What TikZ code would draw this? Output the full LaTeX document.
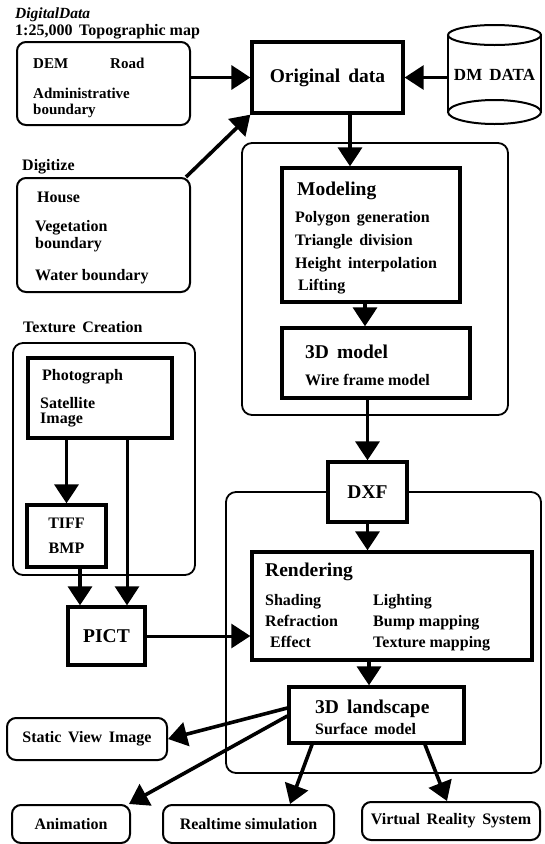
\documentclass[tikz,border=0pt]{standalone}
\usepackage{fontspec}
\setmainfont{Liberation Serif}
\usetikzlibrary{arrows.meta,calc}
\newcommand\txs{\fontsize{16}{16}\selectfont\bfseries}
\newcommand\txm{\fontsize{15}{15}\selectfont\bfseries}
\newcommand\txl{\fontsize{19.5}{20}\selectfont\bfseries}
\newcommand\txi{\fontsize{15.5}{16}\selectfont\bfseries\itshape}
\begin{document}
\begin{tikzpicture}[x=1pt,y=-1pt,
  grp/.style={draw, line width=1.8pt, rounded corners=10pt},
  tbox/.style={draw, line width=3.3pt, fill=white, inner sep=0pt},
  rbox/.style={draw, line width=2pt, rounded corners=9pt, fill=white, inner sep=0pt},
  lbl/.style={anchor=base west, inner sep=0pt, font=\txs},
  lbm/.style={anchor=base west, inner sep=0pt, font=\txm},
  ttl/.style={anchor=base west, inner sep=0pt, font=\txl},
  arr/.style={line width=3.6pt, -{Triangle[length=19pt,width=24pt]}},
  thinarr/.style={line width=3pt, -{Triangle[length=19pt,width=24pt]}},
]
\useasboundingbox[fill=white] (0,0) rectangle (544,844);

% group frames
\draw[grp] (242,143) rectangle (508,415);
\draw[grp] (226,492) rectangle (541,773);
\draw[grp] (13,343) rectangle (195,575);

% top left
\node[anchor=base west, inner sep=0pt, font=\txi] (dd) at (15,18) {DigitalData};
\node[lbl] (topo-t) at (15,35) {1:25,000\, Topographic map};
\node[rbox, minimum width=173pt, minimum height=83pt] (topo) at (103.5,83.5) {};
\node[lbm] at (33,68) {DEM};
\node[lbm] at (110,68) {Road};
\node[lbm] at (33,98) {Administrative};
\node[lbm] at (33,114) {boundary};

% original data
\node[tbox, minimum width=151pt, minimum height=71pt, font=\txl] (orig) at (327.5,77.5) {Original\, data};

% DM DATA cylinder
\node[inner sep=0pt, minimum width=93pt, minimum height=77pt, font=\fontsize{17}{17}\selectfont\bfseries] (dm) at (494.5,75) {DM\, DATA};
\draw[line width=2pt] (494.5,35) ellipse [x radius=46.5, y radius=10];
\draw[line width=2pt] (448,35) -- (448,112) (541,35) -- (541,112);
\draw[line width=2pt] (494.5,112) ellipse [x radius=46.5, y radius=12];

% digitize
\node[lbl] (dig-t) at (22,170) {Digitize};
\node[rbox, minimum width=173pt, minimum height=114pt] (digit) at (103.5,235) {};
\node[lbl] at (37,202) {House};
\node[lbl] at (35,231) {Vegetation};
\node[lbl] at (35,248) {boundary};
\node[lbl] at (35,280) {Water boundary};

% modeling
\node[tbox, minimum width=178pt, minimum height=134pt] (modeling) at (371,235) {};
\node[ttl] at (297,195.5) {Modeling};
\node[lbl] at (295,222) {Polygon\, generation};
\node[lbl] at (295,245) {Triangle\, division};
\node[lbl] at (295,268) {Height\, interpolation};
\node[lbl] at (298,290) {Lifting};

% 3D model
\node[tbox, minimum width=188pt, minimum height=70pt] (model3d) at (376,363) {};
\node[ttl] at (305,358.5) {3D\, model};
\node[lbl] at (305,385) {Wire frame model};

% DXF
\node[tbox, minimum width=79pt, minimum height=60pt, font=\txl] (dxf) at (367.5,492) {DXF};

% rendering
\node[tbox, minimum width=280pt, minimum height=108pt] (render) at (392,606) {};
\node[ttl] at (265,576.5) {Rendering};
\node[lbl] at (265,605) {Shading};
\node[lbl] at (373,605) {Lighting};
\node[lbl] at (265,626) {Refraction};
\node[lbl] at (373,626) {Bump mapping};
\node[lbl] at (270,647) {Effect};
\node[lbl] at (373,647) {Texture mapping};

% 3D landscape
\node[tbox, minimum width=175pt, minimum height=56pt] (land) at (376.5,715) {};
\node[ttl] at (315,713.5) {3D\, landscape};
\node[lbl] at (315,734) {Surface\, model};

% texture creation
\node[lbl] (tex-t) at (23,332) {Texture\, Creation};
\node[tbox, minimum width=144pt, minimum height=80pt] (photo) at (100,398) {};
\node[lbl] at (42,380) {Photograph};
\node[lbl] at (40,408) {Satellite};
\node[lbl] at (40,423) {Image};
\node[tbox, minimum width=79pt, minimum height=62pt] (tiff) at (66.5,536) {};
\node[anchor=base, inner sep=0pt, font=\txs] at (66.5,528) {TIFF};
\node[anchor=base, inner sep=0pt, font=\txs] at (66.5,553) {BMP};
\node[tbox, minimum width=77pt, minimum height=58pt, font=\txl] (pict) at (106.5,636) {PICT};

% outputs
\node[rbox, minimum width=160pt, minimum height=42pt, font=\txs] (static) at (87,739) {Static\, View\, Image};
\node[rbox, minimum width=118pt, minimum height=38pt, font=\txs] (anim) at (71,824) {Animation};
\node[rbox, minimum width=171pt, minimum height=38pt, font=\txs] (real) at (248.5,824) {Realtime simulation};
\node[rbox, minimum width=178pt, minimum height=38pt, font=\txs] (vr) at (451,821) {Virtual\, Reality\, System};

% connectors
\draw[arr] (topo.east |- orig.west) -- (orig.west);
\draw[thinarr] (dm.west |- orig.east) -- (orig.east);
\draw[arr] ([xshift=-5pt]digit.north east) -- (orig.south west);
\draw[arr] ([xshift=22.5pt]orig.south) -- ([xshift=22.5pt]orig.south |- modeling.north);
\draw[arr] ([xshift=-6pt]modeling.south) -- ([xshift=-6pt]modeling.south |- model3d.north);
\draw[arr] (dxf.north |- model3d.south) -- (dxf.north);
\draw[arr] (dxf.south) -- (dxf.south |- render.north);
\draw[arr] ([xshift=-7.5pt]land.north |- render.south) -- ([xshift=-7.5pt]land.north);
\draw[arr] (tiff.north |- photo.south) -- (tiff.north);
\draw[thinarr] ([xshift=20.5pt]pict.north |- photo.south) -- ([xshift=20.5pt]pict.north);
\draw[arr] ([xshift=-26.5pt]pict.north |- tiff.south) -- ([xshift=-26.5pt]pict.north);
\draw[thinarr] (pict.east) -- (pict.east -| render.west);
\draw[arr] ([yshift=7pt]land.west) -- (static.east);
\draw[arr] ([yshift=-1pt]land.west) -- ([xshift=-2pt]anim.north east);
\draw[arr] ([xshift=-64.5pt]land.south) -- ([xshift=41.5pt]real.north);
\draw[arr] ([xshift=48.5pt]land.south) -- ([xshift=-4pt]vr.north);
\end{tikzpicture}
\end{document}
